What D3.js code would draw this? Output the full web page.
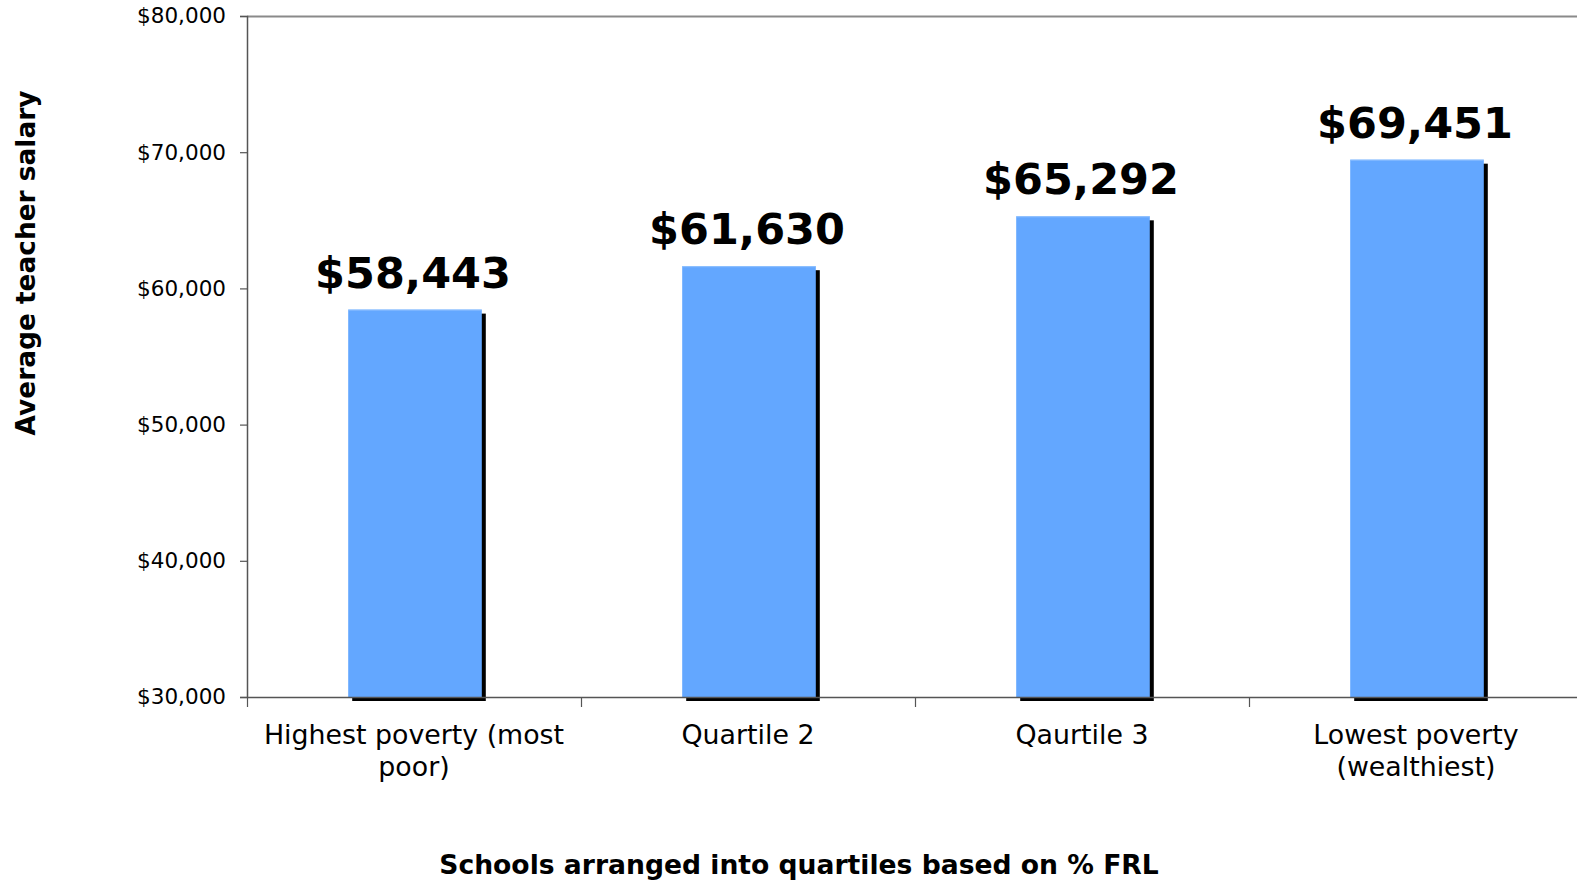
<!DOCTYPE html>
<html>
<head>
<meta charset="utf-8">
<script src="https://cdn.jsdelivr.net/npm/d3@7"></script>
<style>
  html, body { margin: 0; padding: 0; background: #fff; }
  svg { display: block; }
  text { font-family: "DejaVu Sans", Verdana, sans-serif; }
</style>
</head>
<body>
<svg id="chart" width="1577" height="880"></svg>
<script>
const categories = [["Highest poverty (most", "poor)"], ["Quartile 2"], ["Qaurtile 3"], ["Lowest poverty", "(wealthiest)"]];
const salaries = [58443, 61630, 65292, 69451];
const yTicks = [30000, 40000, 50000, 60000, 70000, 80000];
const yTitle = "Average teacher salary";
const xTitle = "Schools arranged into quartiles based on % FRL";

const svg = d3.select("#chart");
const plotLeft = 247, plotRight = 1583, plotTop = 16, plotBottom = 697;

const x = d3.scaleBand().domain(d3.range(categories.length)).range([plotLeft, plotRight]).padding(0);
const y = d3.scaleLinear().domain([30000, 80000]).range([plotBottom, plotTop]);

const fmt = v => "$" + d3.format(",")(v);

// top border line
svg.append("line").attr("x1", plotLeft).attr("x2", 1577).attr("y1", plotTop + 0.5).attr("y2", plotTop + 0.5)
  .attr("stroke", "#8a8a8a").attr("stroke-width", 2);

// bars: shadows
const bw = x.bandwidth() * 0.4;
const cx = i => x(i) + x.bandwidth() / 2 + 1;
svg.selectAll("rect.shadow").data(salaries).enter().append("rect")
  .attr("class", "shadow")
  .attr("x", (d, i) => cx(i) - bw / 2 + 4)
  .attr("y", d => y(d) + 4)
  .attr("width", bw)
  .attr("height", d => plotBottom - y(d))
  .attr("fill", "#000");

svg.selectAll("rect.bar").data(salaries).enter().append("rect")
  .attr("class", "bar")
  .attr("x", (d, i) => cx(i) - bw / 2)
  .attr("y", d => y(d))
  .attr("width", bw)
  .attr("height", d => plotBottom - y(d))
  .attr("fill", "#63a7ff");

svg.selectAll("line.barTop").data(salaries).enter().append("line")
  .attr("class", "barTop")
  .attr("x1", (d, i) => cx(i) - bw / 2).attr("x2", (d, i) => cx(i) + bw / 2)
  .attr("y1", d => y(d) + 0.5).attr("y2", d => y(d) + 0.5)
  .attr("stroke", "#8ec0ff").attr("stroke-width", 1);

// y axis
const yAxis = d3.axisLeft(y).tickValues(yTicks).tickFormat(fmt).tickSize(7).tickPadding(14);
const gy = svg.append("g").attr("transform", `translate(${plotLeft},0)`).call(yAxis);
gy.select(".domain").attr("stroke", "#555").attr("stroke-width", 1.5);
gy.selectAll(".tick line").attr("stroke", "#555").attr("stroke-width", 1.2);
gy.selectAll(".tick text").attr("font-size", 21.5).attr("fill", "#000")
  .attr("font-family", "DejaVu Sans, Verdana, sans-serif");

// x axis baseline and ticks at category boundaries
const boundaries = d3.range(categories.length + 1).map(i => i === categories.length ? plotRight : x(i));
const xb = d3.scaleLinear().domain([plotLeft, plotRight]).range([plotLeft, plotRight]);
const xAxis = d3.axisBottom(xb).tickValues(boundaries).tickFormat("").tickSize(10).tickSizeOuter(0);
const gx = svg.append("g").attr("transform", `translate(0,${plotBottom})`).call(xAxis);
gx.select(".domain").attr("stroke", "#555").attr("stroke-width", 1.5);
gx.selectAll(".tick line").attr("stroke", "#555").attr("stroke-width", 1.2);

// category labels
categories.forEach((lines, i) => {
  const t = svg.append("text")
    .attr("x", cx(i) - 1)
    .attr("y", 744)
    .attr("text-anchor", "middle")
    .attr("font-size", 26.8)
    .attr("fill", "#000");
  lines.forEach((ln, j) => {
    t.append("tspan").attr("x", cx(i) - 1).attr("dy", j === 0 ? 0 : 31.5).text(ln);
  });
});

// value labels
svg.selectAll("text.val").data(salaries).enter().append("text")
  .attr("class", "val")
  .attr("x", (d, i) => cx(i) - 2)
  .attr("y", d => y(d) - 22)
  .attr("text-anchor", "middle")
  .attr("font-size", 43)
  .attr("font-weight", "bold")
  .attr("fill", "#000")
  .text(fmt);

// axis titles
svg.append("text")
  .attr("transform", "translate(35,263) rotate(-90)")
  .attr("text-anchor", "middle")
  .attr("font-size", 26.4)
  .attr("font-weight", "bold")
  .attr("fill", "#000")
  .text(yTitle);

svg.append("text")
  .attr("x", 799)
  .attr("y", 874)
  .attr("text-anchor", "middle")
  .attr("font-size", 26.6)
  .attr("font-weight", "bold")
  .attr("fill", "#000")
  .text(xTitle);
</script>
</body>
</html>
